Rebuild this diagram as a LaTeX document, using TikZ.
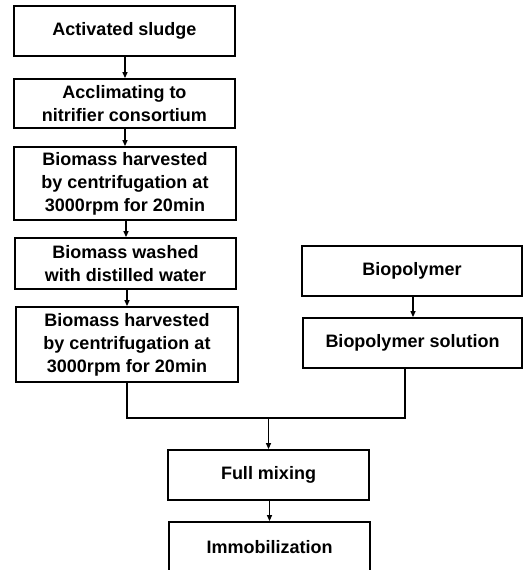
\documentclass[tikz,border=0pt]{standalone}
\usepackage{fontspec}
\setmainfont{Liberation Sans}
\usetikzlibrary{arrows.meta}
\begin{document}
\begin{tikzpicture}[x=1pt,y=-1pt,
  stepbox/.style={draw, line width=1.8pt, align=center, inner sep=0pt,
    font=\fontsize{18}{23}\selectfont\bfseries},
  conn/.style={line width=1.2pt},
  arr/.style={conn, -{Triangle[length=6pt,width=5pt]}}]
\useasboundingbox (0,0) rectangle (525,570);
\clip (0,0) rectangle (525,570);
\node[stepbox, minimum width=221pt, minimum height=50pt] (a) at (124.5,31) {Activated sludge};
\node[stepbox, minimum width=221pt, minimum height=49pt] (b) at (124.5,103.5) {Acclimating to\\nitrifier consortium};
\node[stepbox, minimum width=222pt, minimum height=73pt] (c) at (125,183.5) {Biomass harvested\\by centrifugation at\\3000rpm for 20min};
\node[stepbox, minimum width=221pt, minimum height=51pt] (d) at (125.5,263.5) {Biomass washed\\with distilled water};
\node[stepbox, minimum width=222pt, minimum height=75pt] (e) at (127,344.5) {Biomass harvested\\by centrifugation at\\3000rpm for 20min};
\node[stepbox, minimum width=220pt, minimum height=50pt] (f) at (412,271) {Biopolymer};
\node[stepbox, minimum width=219pt, minimum height=50pt] (g) at (412.5,343) {Biopolymer solution};
\node[stepbox, minimum width=201pt, minimum height=50pt] (h) at (268.5,475) {Full mixing};
\node[stepbox, minimum width=201pt, minimum height=56pt, text depth=0pt] (i) at (269.5,550) {\raisebox{7pt}{Immobilization}};
\coordinate (j) at (268.5,418);
\draw[arr] (a.south -| 125,0) -- (b.north -| 125,0);
\draw[arr] (b.south -| 125,0) -- (c.north -| 125,0);
\draw[arr] (c.south -| 126,0) -- (d.north -| 126,0);
\draw[arr] (d.south -| 127,0) -- (e.north -| 127,0);
\draw[arr] (f.south -| 413,0) -- (g.north -| 413,0);
\draw[conn] (e.south -| 127,0) |- (j) -| (g.south -| 405,0);
\draw[arr] (j) -- (h.north -| j);
\draw[arr] (h.south -| 269.5,0) -- (i.north -| 269.5,0);
\end{tikzpicture}
\end{document}
